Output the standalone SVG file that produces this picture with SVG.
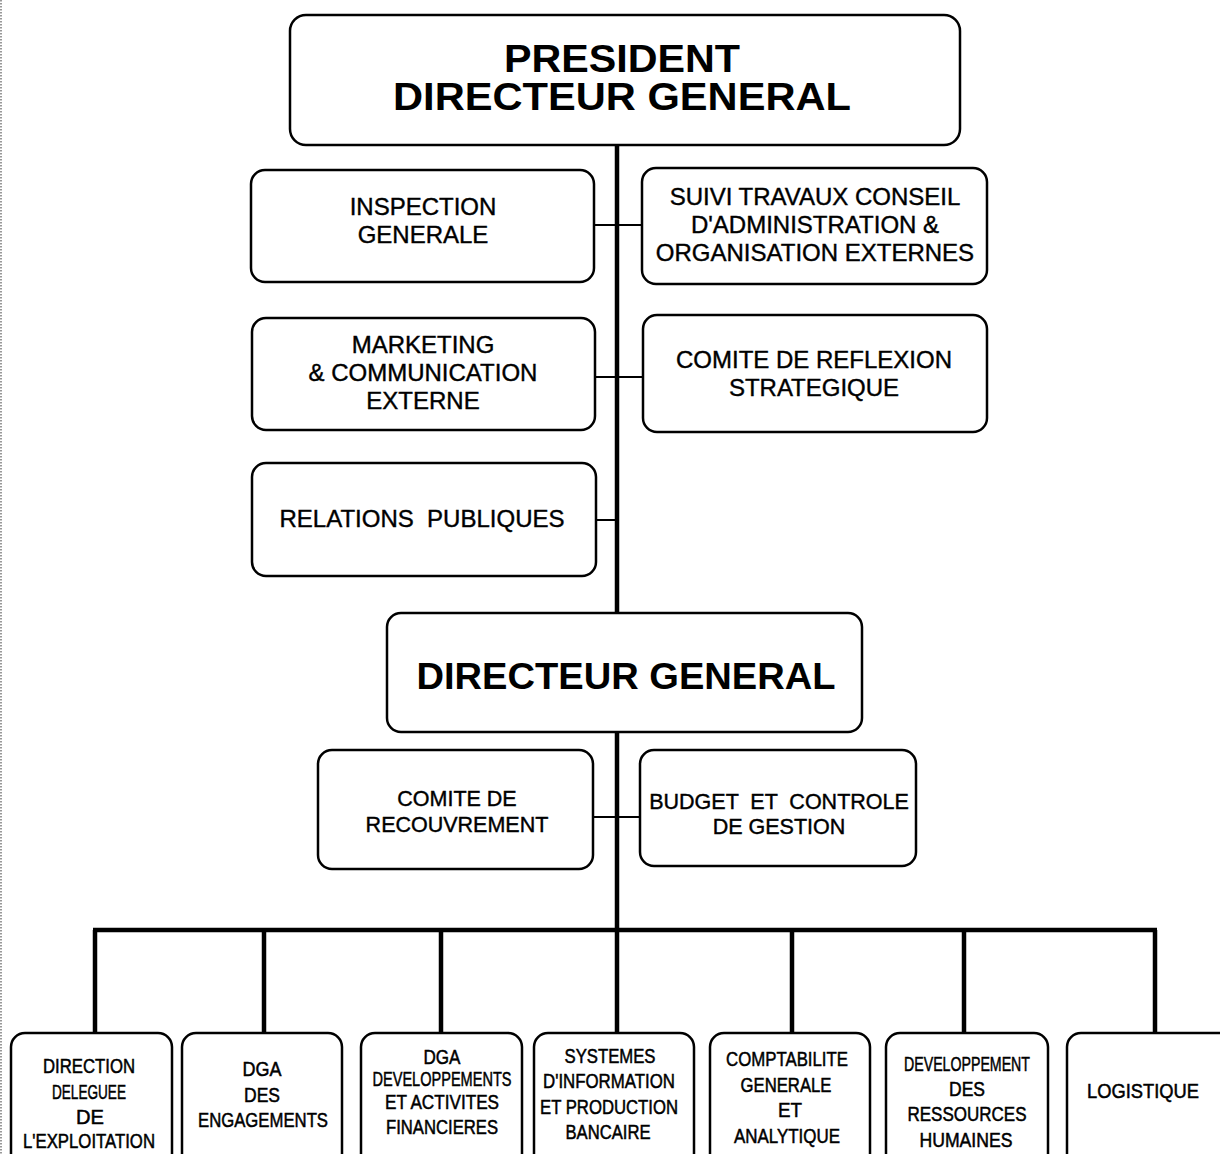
<svg xmlns="http://www.w3.org/2000/svg" width="1220" height="1154" viewBox="0 0 1220 1154">
<style>
.box{fill:#fff;stroke:#000;stroke-width:2.5}
.t{font-family:"Liberation Sans",Arial,sans-serif;font-size:24px;fill:#000;stroke:#000;stroke-width:0.4;text-anchor:middle}
.tm{font-family:"Liberation Sans",Arial,sans-serif;font-size:21.5px;fill:#000;stroke:#000;stroke-width:0.4;text-anchor:middle}
.tb{font-family:"Liberation Sans",Arial,sans-serif;font-weight:bold;fill:#000;text-anchor:middle}
.tn{font-family:"Liberation Sans",Arial,sans-serif;font-size:20px;fill:#000;stroke:#000;stroke-width:0.5;text-anchor:middle}
.thick{stroke:#000;stroke-width:4.5;fill:none}
.thin{stroke:#000;stroke-width:2;fill:none}
</style>
<rect width="1220" height="1154" fill="#fff"/>
<line x1="1" y1="0" x2="1" y2="1154" stroke="#555" stroke-width="1.2" stroke-dasharray="1.5 1.5"/>
<g id="connectors">
<line class="thick" x1="617" y1="145" x2="617" y2="613"/>
<line class="thick" x1="617" y1="732" x2="617" y2="930"/>
<line class="thick" x1="93" y1="930" x2="1157" y2="930"/>
<line class="thick" x1="95" y1="930" x2="95" y2="1033"/>
<line class="thick" x1="264" y1="930" x2="264" y2="1033"/>
<line class="thick" x1="441" y1="930" x2="441" y2="1033"/>
<line class="thick" x1="617" y1="930" x2="617" y2="1033"/>
<line class="thick" x1="792" y1="930" x2="792" y2="1033"/>
<line class="thick" x1="964" y1="930" x2="964" y2="1033"/>
<line class="thick" x1="1155" y1="930" x2="1155" y2="1033"/>
<line class="thin" x1="594" y1="225" x2="642" y2="225"/>
<line class="thin" x1="595" y1="377" x2="643" y2="377"/>
<line class="thin" x1="596" y1="520" x2="617" y2="520"/>
<line class="thin" x1="593" y1="817" x2="640" y2="817"/>
</g>
<g id="pdg">
<rect class="box" x="290" y="15" width="670" height="130" rx="16"/>
<text class="tb" x="622" y="72" font-size="39" textLength="236" lengthAdjust="spacingAndGlyphs">PRESIDENT</text>
<text class="tb" x="622" y="110" font-size="39" textLength="458" lengthAdjust="spacingAndGlyphs">DIRECTEUR GENERAL</text>
</g>
<g id="inspection">
<rect class="box" x="251" y="170" width="343" height="112" rx="14"/>
<text class="t" x="423" y="215">INSPECTION</text>
<text class="t" x="423" y="243">GENERALE</text>
</g>
<g id="suivi">
<rect class="box" x="642" y="168" width="345" height="116" rx="14"/>
<text class="t" x="815" y="205">SUIVI TRAVAUX CONSEIL</text>
<text class="t" x="815" y="233">D'ADMINISTRATION &amp;</text>
<text class="t" x="815" y="261">ORGANISATION EXTERNES</text>
</g>
<g id="marketing">
<rect class="box" x="252" y="318" width="343" height="112" rx="14"/>
<text class="t" x="423" y="353">MARKETING</text>
<text class="t" x="423" y="381">&amp; COMMUNICATION</text>
<text class="t" x="423" y="409">EXTERNE</text>
</g>
<g id="comite-reflexion">
<rect class="box" x="643" y="315" width="344" height="117" rx="14"/>
<text class="t" x="814" y="368">COMITE DE REFLEXION</text>
<text class="t" x="814" y="396">STRATEGIQUE</text>
</g>
<g id="relations">
<rect class="box" x="252" y="463" width="344" height="113" rx="14"/>
<text class="t" x="422" y="527" xml:space="preserve">RELATIONS  PUBLIQUES</text>
</g>
<g id="dg">
<rect class="box" x="387" y="613" width="475" height="119" rx="14"/>
<text class="tb" x="626" y="689" font-size="37" textLength="419" lengthAdjust="spacingAndGlyphs">DIRECTEUR GENERAL</text>
</g>
<g id="comite-recouvrement">
<rect class="box" x="318" y="750" width="275" height="119" rx="14"/>
<text class="tm" x="457" y="806">COMITE DE</text>
<text class="tm" x="457" y="832">RECOUVREMENT</text>
</g>
<g id="budget">
<rect class="box" x="640" y="750" width="276" height="116" rx="14"/>
<text class="tm" x="779" y="809" xml:space="preserve">BUDGET  ET  CONTROLE</text>
<text class="tm" x="779" y="834">DE GESTION</text>
</g>
<g id="exploitation">
<rect class="box" x="11" y="1033" width="161" height="140" rx="14"/>
<text class="tn" x="89" y="1073" textLength="92" lengthAdjust="spacingAndGlyphs">DIRECTION</text>
<text class="tn" x="89" y="1099" textLength="74" lengthAdjust="spacingAndGlyphs">DELEGUEE</text>
<text class="tn" x="90" y="1124" textLength="28" lengthAdjust="spacingAndGlyphs">DE</text>
<text class="tn" x="89" y="1148" textLength="132" lengthAdjust="spacingAndGlyphs">L'EXPLOITATION</text>
</g>
<g id="engagements">
<rect class="box" x="182" y="1033" width="160" height="140" rx="14"/>
<text class="tn" x="262" y="1076" textLength="39" lengthAdjust="spacingAndGlyphs">DGA</text>
<text class="tn" x="262" y="1102" textLength="36" lengthAdjust="spacingAndGlyphs">DES</text>
<text class="tn" x="263" y="1127" textLength="130" lengthAdjust="spacingAndGlyphs">ENGAGEMENTS</text>
</g>
<g id="financieres">
<rect class="box" x="361" y="1033" width="161" height="140" rx="14"/>
<text class="tn" x="442" y="1064" textLength="37" lengthAdjust="spacingAndGlyphs">DGA</text>
<text class="tn" x="442" y="1086" textLength="139" lengthAdjust="spacingAndGlyphs">DEVELOPPEMENTS</text>
<text class="tn" x="442" y="1109" textLength="114" lengthAdjust="spacingAndGlyphs">ET ACTIVITES</text>
<text class="tn" x="442" y="1134" textLength="112" lengthAdjust="spacingAndGlyphs">FINANCIERES</text>
</g>
<g id="systemes">
<rect class="box" x="534" y="1033" width="160" height="140" rx="14"/>
<text class="tn" x="610" y="1063" textLength="91" lengthAdjust="spacingAndGlyphs">SYSTEMES</text>
<text class="tn" x="609" y="1088" textLength="132" lengthAdjust="spacingAndGlyphs">D'INFORMATION</text>
<text class="tn" x="609" y="1114" textLength="138" lengthAdjust="spacingAndGlyphs">ET PRODUCTION</text>
<text class="tn" x="608" y="1139" textLength="85" lengthAdjust="spacingAndGlyphs">BANCAIRE</text>
</g>
<g id="comptabilite">
<rect class="box" x="710" y="1033" width="160" height="140" rx="14"/>
<text class="tn" x="787" y="1066" textLength="122" lengthAdjust="spacingAndGlyphs">COMPTABILITE</text>
<text class="tn" x="786" y="1092" textLength="91" lengthAdjust="spacingAndGlyphs">GENERALE</text>
<text class="tn" x="790" y="1117" textLength="24" lengthAdjust="spacingAndGlyphs">ET</text>
<text class="tn" x="787" y="1143" textLength="106" lengthAdjust="spacingAndGlyphs">ANALYTIQUE</text>
</g>
<g id="rh">
<rect class="box" x="886" y="1033" width="162" height="140" rx="14"/>
<text class="tn" x="967" y="1071" textLength="126" lengthAdjust="spacingAndGlyphs">DEVELOPPEMENT</text>
<text class="tn" x="967" y="1096" textLength="36" lengthAdjust="spacingAndGlyphs">DES</text>
<text class="tn" x="967" y="1121" textLength="119" lengthAdjust="spacingAndGlyphs">RESSOURCES</text>
<text class="tn" x="966" y="1147" textLength="93" lengthAdjust="spacingAndGlyphs">HUMAINES</text>
</g>
<g id="logistique">
<rect class="box" x="1067" y="1033" width="170" height="140" rx="14"/>
<text class="tn" x="1143" y="1098" textLength="112" lengthAdjust="spacingAndGlyphs">LOGISTIQUE</text>
</g>
</svg>
